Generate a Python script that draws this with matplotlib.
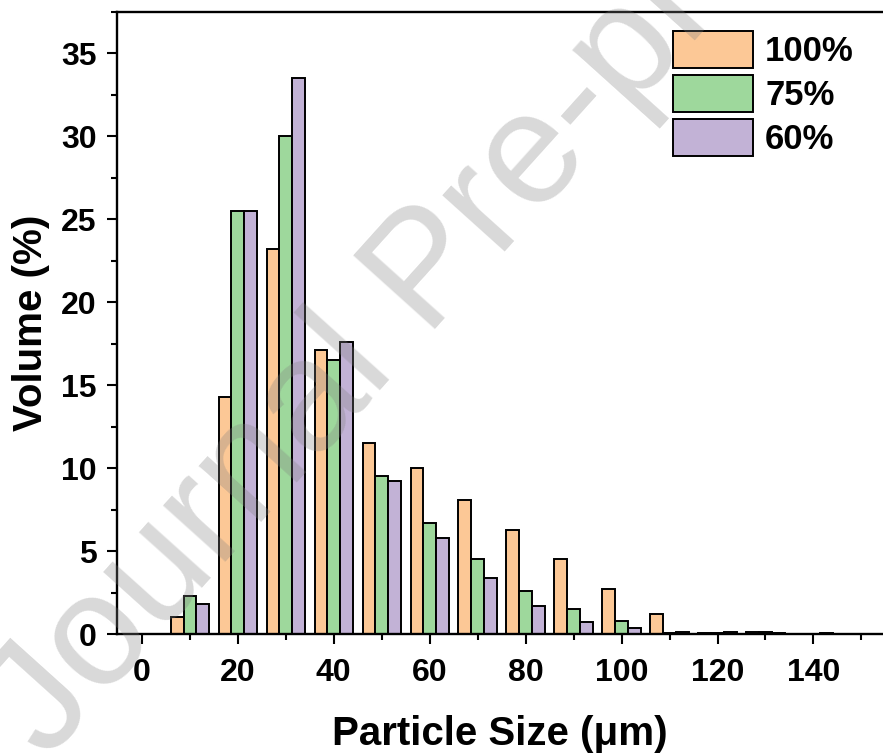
import numpy as np
import matplotlib
matplotlib.use('Agg')
import matplotlib.pyplot as plt
from matplotlib.ticker import MultipleLocator

plt.rcParams['font.family'] = ['Liberation Sans', 'DejaVu Sans']
plt.rcParams['font.weight'] = 'bold'

# Particle size bins (um) and volume fractions (%)
sizes = [10, 20, 30, 40, 50, 60, 70, 80, 90, 100, 110, 120, 130, 140]
vol_100 = [1.0, 14.3, 23.2, 17.1, 11.5, 10.0, 8.1, 6.3, 4.5, 2.7, 1.2, 0.08, 0.1, 0.0]
vol_75 = [2.3, 25.5, 30.0, 16.5, 9.5, 6.7, 4.5, 2.6, 1.5, 0.8, 0.08, 0.05, 0.15, 0.0]
vol_60 = [1.8, 25.5, 33.5, 17.6, 9.2, 5.8, 3.4, 1.7, 0.7, 0.38, 0.1, 0.12, 0.05, 0.05]
labels = ['100%', '75%', '60%']
colors = ['#FCC896', '#9ED89C', '#C2B2D6']

fig = plt.figure(figsize=(8.83, 7.54), dpi=100)
ax = fig.add_axes([117/883, 120/754, 766/883, 622/754])

x = np.array(sizes)
w = 2.67
for i, (vals, lab, col) in enumerate(zip([vol_100, vol_75, vol_60], labels, colors)):
    ax.bar(x + (i - 1) * w, vals, width=w, color=col, edgecolor='black',
           linewidth=1.4, label=lab, zorder=2)

ax.set_xlim(-5.2, 154.5)
ax.set_ylim(0, 37.5)
ax.xaxis.set_major_locator(MultipleLocator(20))
ax.xaxis.set_minor_locator(MultipleLocator(10))
ax.yaxis.set_major_locator(MultipleLocator(5))
ax.yaxis.set_minor_locator(MultipleLocator(2.5))

for s in ['left', 'bottom', 'top']:
    ax.spines[s].set_linewidth(1.7)
ax.spines['right'].set_visible(False)
ax.tick_params(which='major', direction='out', length=7.5, width=1.5,
               labelsize=23, top=False, right=False)
ax.tick_params(which='minor', direction='out', length=4, width=1.5,
               top=False, right=False)
ax.tick_params(axis='x', which='major', pad=10)
ax.tick_params(axis='y', which='major', pad=7)

ax.set_xlabel('Particle Size (\u03bcm)', fontsize=29, fontweight='bold', labelpad=19)
ax.set_ylabel('Volume (%)', fontsize=29, fontweight='bold', labelpad=8)

ax.legend(loc='upper left', bbox_to_anchor=((673 - 117) / 766, (634 - 31) / 622),
          frameon=False, fontsize=25, handlelength=2.3, handleheight=1.28,
          handletextpad=0.35, labelspacing=0.19, borderpad=0, borderaxespad=0)

# watermark
fig.text(46/883, -7/754, 'Journal Pre-proof', fontsize=115, fontweight='normal',
         color='gray', alpha=0.3, rotation=48, rotation_mode='anchor',
         ha='left', va='baseline', zorder=10)

fig.savefig('out.png', dpi=100)
